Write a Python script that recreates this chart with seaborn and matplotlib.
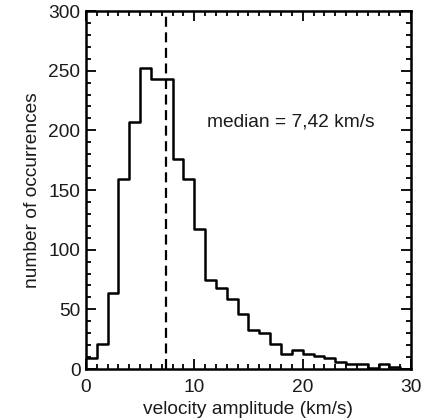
import numpy as np
import pandas as pd
import matplotlib
matplotlib.use("Agg")
import matplotlib.pyplot as plt
from matplotlib.ticker import MultipleLocator
import seaborn as sns

# Data (1 km/s bins from 0 to 30)
bin_edges = list(range(0, 31))
counts = [9, 21, 64, 159, 207, 252, 243, 243, 176, 159,
          117, 75, 68, 59, 46, 33, 30, 21, 13, 16,
          13, 11, 9, 6, 4, 4, 1, 4, 2, 0]
median_value = 7.42
median_label = "median = 7,42 km/s"
x_label = "velocity amplitude (km/s)"
y_label = "number of occurrences"

sns.set_theme(style="white")
plt.rcParams["font.family"] = ["Liberation Sans", "DejaVu Sans"]

centers = [(bin_edges[i] + bin_edges[i + 1]) / 2 for i in range(len(counts))]
df = pd.DataFrame({"v": centers, "n": counts})

fig = plt.figure(figsize=(4.28, 4.19), dpi=100)
ax = fig.add_axes([0.2009, 0.1193, 0.7594, 0.8544])

sns.histplot(data=df, x="v", weights="n", bins=bin_edges, element="step",
             fill=False, color="black", linewidth=1.8, ax=ax)
ax.axvline(median_value, color="black", linestyle=(0, (4.5, 2.5)), linewidth=1.6)

ax.set_xlim(0, 30)
ax.set_ylim(0, 300)
ax.xaxis.set_major_locator(MultipleLocator(10))
ax.xaxis.set_minor_locator(MultipleLocator(1))
ax.yaxis.set_major_locator(MultipleLocator(50))
ax.yaxis.set_minor_locator(MultipleLocator(10))
ax.tick_params(which="both", direction="in", top=True, right=True,
               bottom=True, left=True, color="black", width=1.3,
               labelsize=13.8, labelcolor="#1a1a1a")
ax.tick_params(which="major", length=7, pad=4)
ax.tick_params(axis="x", which="major", pad=7)
ax.tick_params(which="minor", length=3.5)
for s in ax.spines.values():
    s.set_color("black")
    s.set_linewidth(1.8)

ax.set_xlabel(x_label, fontsize=13.8, color="#1a1a1a", labelpad=4)
ax.set_ylabel(y_label, fontsize=13.8, color="#1a1a1a", labelpad=5)
ax.text(11.15, 207, median_label, fontsize=13.8, color="#1a1a1a",
        ha="left", va="center")

fig.savefig("out.png", dpi=100)
